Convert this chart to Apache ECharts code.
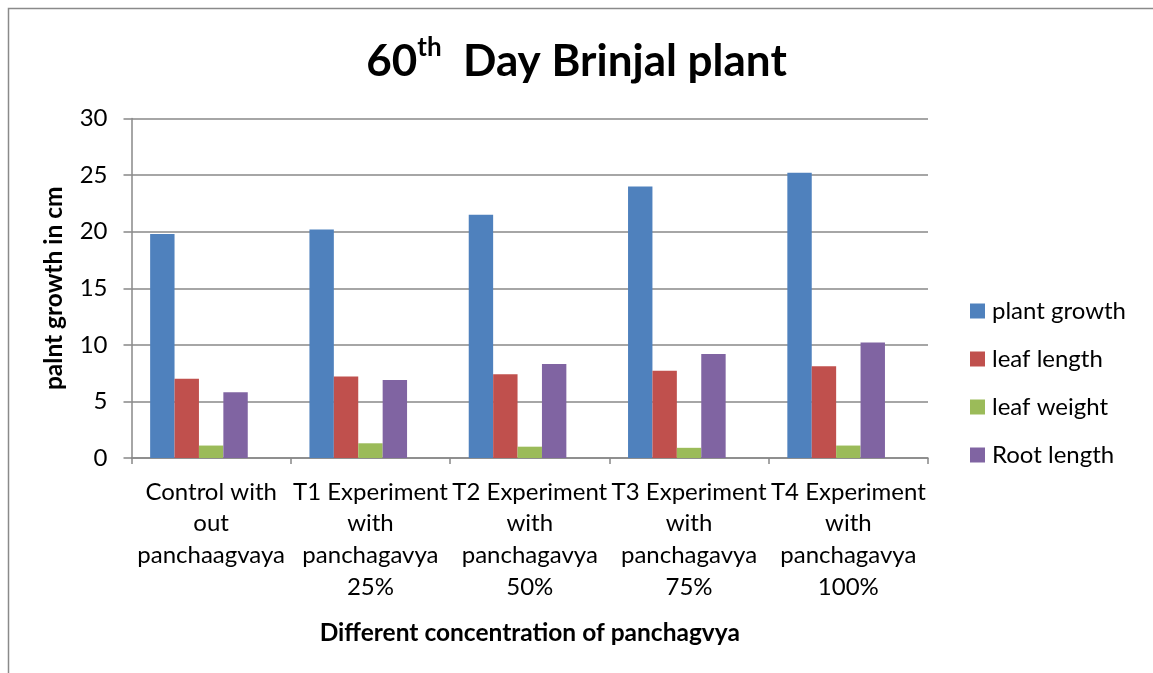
<!DOCTYPE html>
<html>
<head>
<meta charset="utf-8">
<script src="https://cdn.jsdelivr.net/npm/echarts@6/dist/echarts.min.js"></script>
<style>
html,body{margin:0;padding:0;background:#fff;}
#chart{width:1153px;height:673px;}
</style>
</head>
<body>
<div id="chart"></div>
<script>
const categories = [
  "Control with\nout\npanchaagvaya",
  "T1 Experiment\nwith\npanchagavya\n25%",
  "T2 Experiment\nwith\npanchagavya\n50%",
  "T3 Experiment\nwith\npanchagavya\n75%",
  "T4 Experiment\nwith\npanchagavya\n100%"
];
const plantGrowth = [19.8, 20.2, 21.5, 24.0, 25.2];
const leafLength = [7.0, 7.2, 7.4, 7.7, 8.1];
const leafWeight = [1.1, 1.3, 1.0, 0.9, 1.1];
const rootLength = [5.8, 6.9, 8.3, 9.2, 10.2];
const emptySeries = [null, null, null, null, null];
const seriesNames = ["plant growth", "leaf length", "leaf weight", "Root length"];
const yTicks = { min: 0, max: 30, interval: 5 };

const FONT = "Lato";
const colors = ["#4F81BD", "#C0504D", "#9BBB59", "#8064A2"];
const chart = echarts.init(document.getElementById('chart'), null, { renderer: 'canvas' });
const values = [plantGrowth, leafLength, leafWeight, rootLength];
const series = seriesNames.map((n, i) => ({
  name: n, type: 'bar', data: values[i],
  itemStyle: { color: colors[i] },
  barGap: '0%', barCategoryGap: '23.4%'
}));
series.push({ name: 'blank', type: 'bar', data: emptySeries, barGap: '0%', barCategoryGap: '23.4%', silent: true });

chart.setOption({
  animation: false,
  backgroundColor: '#fff',
  graphic: [{
    type: 'rect', left: 6, top: 6, shape: { x: 0, y: 0, width: 1300, height: 800 },
    style: { fill: 'none', stroke: '#8a8a8a', lineWidth: 1.5 }, silent: true, z: -1
  }],
  title: {
    text: '{a|60}{s|th}{a|  Day Brinjal plant}',
    left: 'center', top: 30,
    textStyle: {
      rich: {
        a: { fontFamily: FONT, fontWeight: 'bold', fontSize: 44, color: '#000', lineHeight: 54 },
        s: { fontFamily: FONT, fontWeight: 'bold', fontSize: 26, color: '#000', verticalAlign: 'top', lineHeight: 34 }
      }
    }
  },
  legend: {
    data: seriesNames,
    orient: 'vertical', left: 970, top: 299, padding: 0,
    itemWidth: 15, itemHeight: 15, itemGap: 24,
    icon: 'rect',
    textStyle: { fontFamily: FONT, fontSize: 24, color: '#000', lineHeight: 24, padding: [0, 0, 0, 2] }
  },
  grid: { left: 131.5, right: 225, top: 118.5, bottom: 215 },
  xAxis: {
    type: 'category', data: categories,
    name: 'Different concentration of panchagvya',
    nameLocation: 'middle', nameGap: 175, nameMoveOverlap: false,
    nameTextStyle: { fontFamily: FONT, fontWeight: 'bold', fontSize: 24.5, color: '#000', verticalAlign: 'middle' },
    axisLine: { lineStyle: { color: '#888', width: 1.5 } },
    axisTick: { show: true, length: 6, lineStyle: { color: '#888', width: 1.5 } },
    axisLabel: { interval: 0, fontFamily: FONT, fontSize: 24, color: '#000', lineHeight: 31.7, margin: 18 }
  },
  yAxis: {
    type: 'value', min: yTicks.min, max: yTicks.max, interval: yTicks.interval,
    name: 'palnt growth in cm', nameLocation: 'middle', nameGap: 77, nameMoveOverlap: false,
    nameTextStyle: { fontFamily: FONT, fontWeight: 'bold', fontSize: 24.5, color: '#000', verticalAlign: 'middle' },
    axisLine: { show: true, lineStyle: { color: '#888', width: 1.5 } },
    axisTick: { show: true, length: 8, lineStyle: { color: '#888', width: 1.5 } },
    splitLine: { lineStyle: { color: '#888', width: 1.5 } },
    axisLabel: { fontFamily: FONT, fontSize: 24, color: '#000', margin: 24 }
  },
  series: series
});
</script>
</body>
</html>
